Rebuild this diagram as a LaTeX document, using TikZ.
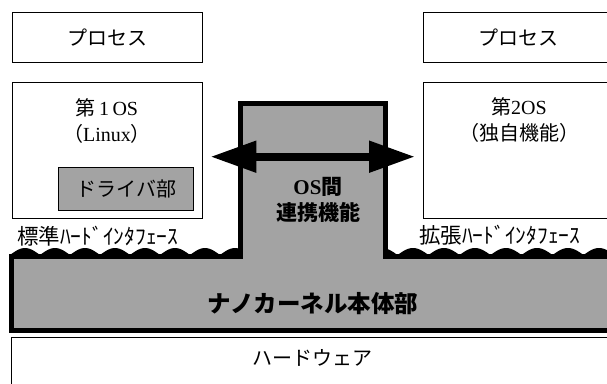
\documentclass[tikz,border=0pt]{standalone}
\usepackage{fontspec}
\setmainfont{Liberation Serif}
\newfontfamily\jpfont{Noto Sans CJK JP}
\usetikzlibrary{arrows.meta,positioning}

\tikzset{
  box/.style={draw, line width=1.4pt, anchor=north west, inner sep=0pt},
  txt/.style={font=\jpfont\fontsize{20}{26}\selectfont, align=center, inner sep=0pt},
  boldtxt/.style={font=\jpfont\bfseries\fontsize{21}{26}\selectfont, align=center, inner sep=0pt},
  halftone/.style={fill=black!36},
}

\begin{document}
\begin{tikzpicture}[x=1pt,y=-1pt]
  \useasboundingbox (0,0) rectangle (607,383);
  \clip (0,0) rectangle (607,383);
  % upper boxes
  \node[box, txt, minimum width=190pt, minimum height=50pt] (proc1) at (12,12) {プロセス};
  \node[box, txt, minimum width=190pt, minimum height=50pt] (proc2) at (423,12) {プロセス};
  \node[box, minimum width=190pt, minimum height=136pt] (os1) at (12,82) {};
  \node[box, minimum width=190pt, minimum height=136pt] (os2) at (423,82) {};
  \node[txt] (os1lbl) at (107,121) {第\,{\rmfamily 1\,OS}\\（{\rmfamily Linux}）};
  \node[txt] (os2lbl) at (519,120) {第{\rmfamily 2OS}\\（独自機能）};
  \node[box, halftone, txt, minimum width=135pt, minimum height=43pt] (drv) at (58,167) {ドライバ部};
  % kernel
  \draw[line width=5pt, halftone, line join=miter] (11,330) -- (11,256) -- (240,256) -- (240,103)
    -- (385,103) -- (385,256) -- (615,256) -- (615,330) -- cycle;
  % wavy edges
  \fill (10,256) -- plot[domain=10:238, samples=120] (\x,{255-7*abs(sin(6*(\x-10)))}) -- (238,256) -- cycle;
  \fill (385,256) -- plot[domain=385:607, samples=150] (\x,{255-7*abs(sin(5.806*(\x-397.5)))}) -- (607,256) -- cycle;
  \node[boldtxt] (link) at (318,200) {{\rmfamily OS}間\\連携機能};
  \node[boldtxt, font=\jpfont\bfseries\fontsize{23.5}{28}\selectfont] (kernel) at (313,304) {ナノカーネル本体部};
  % hardware
  \node[box, minimum width=620pt, minimum height=80pt] (hw) at (11,337) {};
  \node[txt] (hwlbl) at (312,358) {ハードウェア};
  \node[txt, font=\jpfont\fontsize{21.5}{26}\selectfont, anchor=west] (stdif) at (17,236) {標準ﾊｰﾄﾞｲﾝﾀﾌｪｰｽ};
  \node[txt, font=\jpfont\fontsize{21.5}{26}\selectfont, anchor=west] (extif) at (419,235) {拡張ﾊｰﾄﾞｲﾝﾀﾌｪｰｽ};
  % arrow
  \draw[line width=8pt, {Triangle[length=46pt,width=30pt]}-{Triangle[length=46pt,width=30pt]},
    shorten <=7pt, shorten >=8pt] ([yshift=-6pt]os1.east) -- ([yshift=-6pt]os2.west);
\end{tikzpicture}
\end{document}
